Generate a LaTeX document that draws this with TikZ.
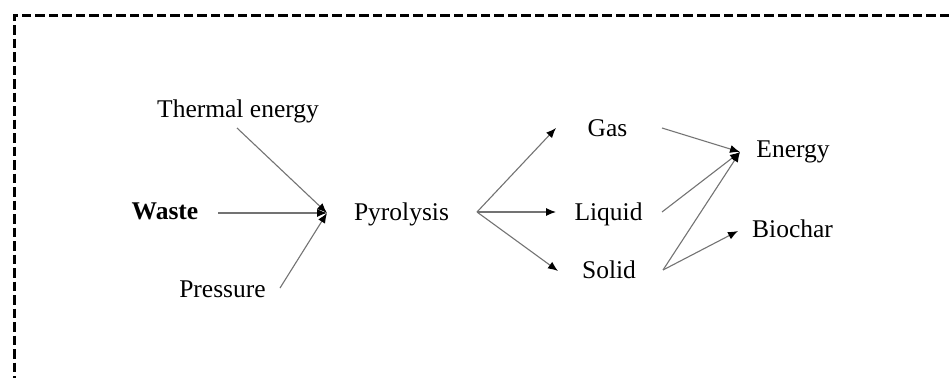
\documentclass[tikz,border=0pt]{standalone}
\usepackage{fontspec}
\setmainfont{Liberation Serif}
\usetikzlibrary{arrows.meta}
\begin{document}
\begin{tikzpicture}[x=1pt,y=-1pt,
  label/.style={anchor=base,inner sep=0pt,font=\fontsize{25.5}{30}\selectfont},
  flow/.style={draw=black!55,line width=1.1pt,-{Latex[length=10pt,width=8pt,color=black]}},
  frame/.style={line width=3pt,dash pattern=on 9.5pt off 4pt}]
\useasboundingbox (0,0) rectangle (949,378);

% open dashed frame (top and left sides)
\draw[frame] (949,15) -- (14,15) -- (14,378);

% labels
\node[label] (thermal)  at (238,117) {Thermal energy};
\node[label] (waste)    at (165,219) {\textbf{Waste}};
\node[label] (pressure) at (222.5,297) {Pressure};
\node[label] (pyro)     at (401.5,220) {Pyrolysis};
\node[label] (gas)      at (607.5,136) {Gas};
\node[label] (liquid)   at (608.5,220) {Liquid};
\node[label] (solid)    at (609,278) {Solid};
\node[label] (energy)   at (793,157) {Energy};
\node[label] (biochar)  at (792.5,237) {Biochar};

% connector ends
\coordinate (thermal-out)  at (237,128);
\coordinate (waste-out)    at (218,213);
\coordinate (pressure-out) at (280,288);
\coordinate (mix)          at (327,213);
\coordinate (pyro-out)     at (477,212);
\coordinate (gas-in)       at (556,128);
\coordinate (liquid-in)    at (556,212);
\coordinate (solid-in)     at (558,271);
\coordinate (gas-out)      at (662,128);
\coordinate (liquid-out)   at (662,212);
\coordinate (solid-out)    at (663,270);
\coordinate (energy-in)    at (740,152);
\coordinate (biochar-in)   at (738,231);

% inputs to pyrolysis
\draw[flow] (thermal-out)  -- (mix);
\draw[flow] (waste-out)    -- (mix);
\draw[flow] (pressure-out) -- (mix);

% pyrolysis products
\draw[flow] (pyro-out) -- (gas-in);
\draw[flow] (pyro-out) -- (liquid-in);
\draw[flow] (pyro-out) -- (solid-in);

% uses of the products
\draw[flow] (gas-out)    -- (energy-in);
\draw[flow] (liquid-out) -- (energy-in);
\draw[flow] (solid-out)  -- (energy-in);
\draw[flow] (solid-out)  -- (biochar-in);
\end{tikzpicture}
\end{document}
